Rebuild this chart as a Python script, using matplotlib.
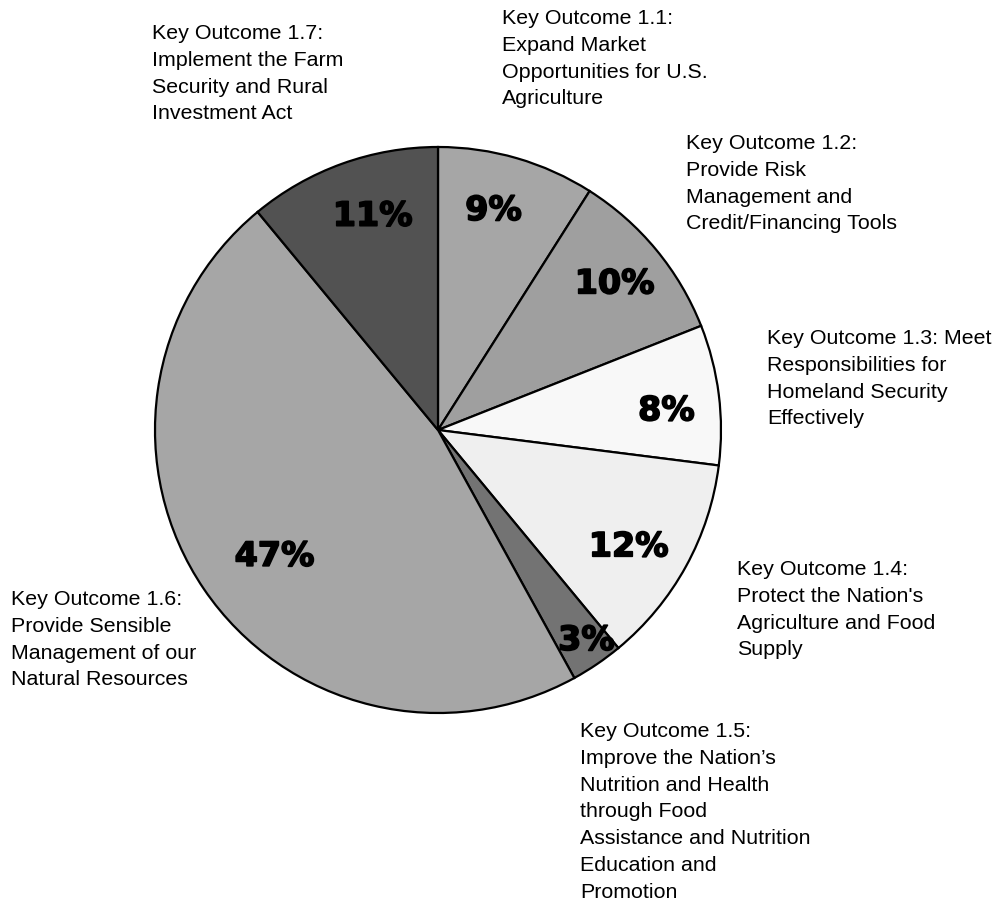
import matplotlib.pyplot as plt
import matplotlib.patheffects as pe
import numpy as np

# slice values (percent), clockwise from 12 o'clock
shares = [9, 10, 8, 12, 3, 47, 11]
slice_colors = ['#a6a6a6', '#9f9f9f', '#f8f8f8', '#efefef', '#737373', '#a6a6a6', '#525252']

outcome_labels = [
    "Key Outcome 1.1:\nExpand Market\nOpportunities for U.S.\nAgriculture",
    "Key Outcome 1.2:\nProvide Risk\nManagement and\nCredit/Financing Tools",
    "Key Outcome 1.3: Meet\nResponsibilities for\nHomeland Security\nEffectively",
    "Key Outcome 1.4:\nProtect the Nation's\nAgriculture and Food\nSupply",
    "Key Outcome 1.5:\nImprove the Nation\u2019s\nNutrition and Health\nthrough Food\nAssistance and Nutrition\nEducation and\nPromotion",
    "Key Outcome 1.6:\nProvide Sensible\nManagement of our\nNatural Resources",
    "Key Outcome 1.7:\nImplement the Farm\nSecurity and Rural\nInvestment Act",
]

W, H = 999, 905
CX, CY, R = 438, 430, 283          # pie centre / radius in pixels (y from top)

# label block anchors: (left x, centre of first line) in pixels from top-left
label_pos = [(502, 17), (686, 142), (767, 337), (737, 568),
             (580, 730), (11, 598), (152, 32)]
LINE_STEP = 26.8

# percent label placement: fraction of radius, angle nudge (deg) from slice middle
pct_dist = [0.80, 0.81, 0.81, 0.79, 0.91, 0.73, 0.79]
pct_nudge = [2.0, 0.0, -2.4, -2.7, 1.0, 3.5, -2.8]


def py(y):
    """pixel row (from top) -> data y"""
    return H - y


fig = plt.figure(figsize=(W / 100, H / 100), dpi=100)
ax = fig.add_axes([0, 0, 1, 1])

wedges, _ = ax.pie(shares, colors=slice_colors, startangle=90, counterclock=False,
                   center=(CX, py(CY)), radius=R,
                   wedgeprops=dict(edgecolor='black', linewidth=1.6))

ax.set_xlim(0, W)
ax.set_ylim(0, H)
ax.set_aspect('equal')
ax.axis('off')

# heavy percent labels inside the slices
for w, val, d, nudge in zip(wedges, shares, pct_dist, pct_nudge):
    mid = np.deg2rad((w.theta1 + w.theta2) / 2 + nudge)
    x = CX + d * R * np.cos(mid)
    y = py(CY) + d * R * np.sin(mid)
    ax.text(x, y, f"{val}%", ha='center', va='center', fontsize=24,
            fontweight='bold', family='DejaVu Sans', color='black',
            path_effects=[pe.withStroke(linewidth=1.2, foreground='black')])

# outcome descriptions, one line at a time
for text, (lx, ly) in zip(outcome_labels, label_pos):
    for i, line in enumerate(text.split('\n')):
        ax.text(lx, py(ly + 7 + i * LINE_STEP), line, ha='left', va='baseline',
                fontsize=15.4, family='Liberation Sans', color='black')

fig.savefig('out.png', dpi=100)
